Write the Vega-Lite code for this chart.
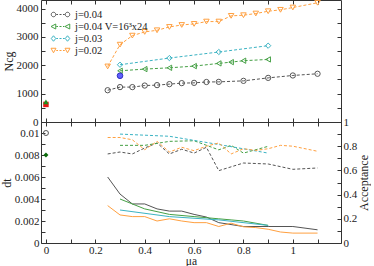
{
  "$schema": "https://vega.github.io/schema/vega-lite/v6.json",
  "padding": {"left": -1, "top": -3, "right": 0, "bottom": 0},
  "spacing": 0,
  "bounds": "flush",
  "datasets": {
    "top": [
      {"s": "j=0.04", "mu": 0.25, "n": 1120}, {"s": "j=0.04", "mu": 0.3, "n": 1230}, {"s": "j=0.04", "mu": 0.35, "n": 1230}, {"s": "j=0.04", "mu": 0.4, "n": 1285}, {"s": "j=0.04", "mu": 0.45, "n": 1300}, {"s": "j=0.04", "mu": 0.5, "n": 1335}, {"s": "j=0.04", "mu": 0.55, "n": 1370}, {"s": "j=0.04", "mu": 0.6, "n": 1380}, {"s": "j=0.04", "mu": 0.65, "n": 1410}, {"s": "j=0.04", "mu": 0.7, "n": 1415}, {"s": "j=0.04", "mu": 0.8, "n": 1450}, {"s": "j=0.04", "mu": 0.9, "n": 1555}, {"s": "j=0.04", "mu": 1.0, "n": 1640}, {"s": "j=0.04", "mu": 1.1, "n": 1700},
      {"s": "j=0.04 V=16³x24", "mu": 0.3, "n": 1805}, {"s": "j=0.04 V=16³x24", "mu": 0.4, "n": 1865}, {"s": "j=0.04 V=16³x24", "mu": 0.5, "n": 1910}, {"s": "j=0.04 V=16³x24", "mu": 0.6, "n": 1970}, {"s": "j=0.04 V=16³x24", "mu": 0.7, "n": 2065}, {"s": "j=0.04 V=16³x24", "mu": 0.75, "n": 2110}, {"s": "j=0.04 V=16³x24", "mu": 0.8, "n": 2160}, {"s": "j=0.04 V=16³x24", "mu": 0.9, "n": 2205},
      {"s": "j=0.03", "mu": 0.3, "n": 2018}, {"s": "j=0.03", "mu": 0.5, "n": 2254}, {"s": "j=0.03", "mu": 0.7, "n": 2467}, {"s": "j=0.03", "mu": 0.9, "n": 2690},
      {"s": "j=0.02", "mu": 0.25, "n": 1958}, {"s": "j=0.02", "mu": 0.3, "n": 2726}, {"s": "j=0.02", "mu": 0.35, "n": 3044}, {"s": "j=0.02", "mu": 0.4, "n": 3175}, {"s": "j=0.02", "mu": 0.45, "n": 3233}, {"s": "j=0.02", "mu": 0.5, "n": 3350}, {"s": "j=0.02", "mu": 0.55, "n": 3420}, {"s": "j=0.02", "mu": 0.6, "n": 3457}, {"s": "j=0.02", "mu": 0.65, "n": 3540}, {"s": "j=0.02", "mu": 0.7, "n": 3540}, {"s": "j=0.02", "mu": 0.75, "n": 3741}, {"s": "j=0.02", "mu": 0.8, "n": 3764}, {"s": "j=0.02", "mu": 0.85, "n": 3823}, {"s": "j=0.02", "mu": 0.9, "n": 3904}, {"s": "j=0.02", "mu": 0.95, "n": 3954}, {"s": "j=0.02", "mu": 1.0, "n": 4035}, {"s": "j=0.02", "mu": 1.1, "n": 4202}
    ],
    "xt": [
      {"k": "r", "mu": 0, "n": 620},
      {"k": "g", "mu": 0, "n": 710},
      {"k": "b", "mu": 0.3, "n": 1630}
    ],
    "dt": [
      {"s": "j=0.04", "mu": 0.25, "dt": 0.006}, {"s": "j=0.04", "mu": 0.3, "dt": 0.00445}, {"s": "j=0.04", "mu": 0.35, "dt": 0.00355}, {"s": "j=0.04", "mu": 0.4, "dt": 0.00355}, {"s": "j=0.04", "mu": 0.45, "dt": 0.0031}, {"s": "j=0.04", "mu": 0.5, "dt": 0.0029}, {"s": "j=0.04", "mu": 0.55, "dt": 0.0029}, {"s": "j=0.04", "mu": 0.6, "dt": 0.0026}, {"s": "j=0.04", "mu": 0.65, "dt": 0.00236}, {"s": "j=0.04", "mu": 0.7, "dt": 0.00185}, {"s": "j=0.04", "mu": 0.8, "dt": 0.0015}, {"s": "j=0.04", "mu": 0.9, "dt": 0.0015}, {"s": "j=0.04", "mu": 1.0, "dt": 0.0015}, {"s": "j=0.04", "mu": 1.1, "dt": 0.0012},
      {"s": "j=0.04 V=16³x24", "mu": 0.3, "dt": 0.004}, {"s": "j=0.04 V=16³x24", "mu": 0.4, "dt": 0.0031}, {"s": "j=0.04 V=16³x24", "mu": 0.5, "dt": 0.0026}, {"s": "j=0.04 V=16³x24", "mu": 0.6, "dt": 0.0024}, {"s": "j=0.04 V=16³x24", "mu": 0.7, "dt": 0.0022}, {"s": "j=0.04 V=16³x24", "mu": 0.75, "dt": 0.0021}, {"s": "j=0.04 V=16³x24", "mu": 0.8, "dt": 0.002}, {"s": "j=0.04 V=16³x24", "mu": 0.9, "dt": 0.0016},
      {"s": "j=0.03", "mu": 0.3, "dt": 0.003}, {"s": "j=0.03", "mu": 0.5, "dt": 0.0024}, {"s": "j=0.03", "mu": 0.7, "dt": 0.0021}, {"s": "j=0.03", "mu": 0.9, "dt": 0.0016},
      {"s": "j=0.02", "mu": 0.25, "dt": 0.0034}, {"s": "j=0.02", "mu": 0.3, "dt": 0.00255}, {"s": "j=0.02", "mu": 0.35, "dt": 0.0024}, {"s": "j=0.02", "mu": 0.4, "dt": 0.0024}, {"s": "j=0.02", "mu": 0.45, "dt": 0.002}, {"s": "j=0.02", "mu": 0.5, "dt": 0.0022}, {"s": "j=0.02", "mu": 0.55, "dt": 0.002}, {"s": "j=0.02", "mu": 0.6, "dt": 0.00185}, {"s": "j=0.02", "mu": 0.65, "dt": 0.00185}, {"s": "j=0.02", "mu": 0.7, "dt": 0.0015}, {"s": "j=0.02", "mu": 0.75, "dt": 0.0018}, {"s": "j=0.02", "mu": 0.8, "dt": 0.00147}, {"s": "j=0.02", "mu": 0.85, "dt": 0.0014}, {"s": "j=0.02", "mu": 0.9, "dt": 0.00125}, {"s": "j=0.02", "mu": 0.95, "dt": 0.001}, {"s": "j=0.02", "mu": 1.0, "dt": 0.0009}, {"s": "j=0.02", "mu": 1.1, "dt": 0.0009}
    ],
    "xb": [
      {"k": "c", "mu": 0, "dt": 0.01},
      {"k": "d", "mu": 0, "dt": 0.008}
    ],
    "acc": [
      {"s": "j=0.04", "mu": 0.25, "a": 0.736}, {"s": "j=0.04", "mu": 0.3, "a": 0.752}, {"s": "j=0.04", "mu": 0.35, "a": 0.736}, {"s": "j=0.04", "mu": 0.4, "a": 0.785}, {"s": "j=0.04", "mu": 0.45, "a": 0.827}, {"s": "j=0.04", "mu": 0.5, "a": 0.736}, {"s": "j=0.04", "mu": 0.55, "a": 0.775}, {"s": "j=0.04", "mu": 0.6, "a": 0.743}, {"s": "j=0.04", "mu": 0.65, "a": 0.791}, {"s": "j=0.04", "mu": 0.7, "a": 0.598}, {"s": "j=0.04", "mu": 0.8, "a": 0.661}, {"s": "j=0.04", "mu": 0.9, "a": 0.653}, {"s": "j=0.04", "mu": 1.0, "a": 0.609}, {"s": "j=0.04", "mu": 1.1, "a": 0.62},
      {"s": "j=0.04 V=16³x24", "mu": 0.3, "a": 0.807}, {"s": "j=0.04 V=16³x24", "mu": 0.4, "a": 0.807}, {"s": "j=0.04 V=16³x24", "mu": 0.5, "a": 0.84}, {"s": "j=0.04 V=16³x24", "mu": 0.6, "a": 0.845}, {"s": "j=0.04 V=16³x24", "mu": 0.7, "a": 0.77}, {"s": "j=0.04 V=16³x24", "mu": 0.75, "a": 0.807}, {"s": "j=0.04 V=16³x24", "mu": 0.8, "a": 0.743}, {"s": "j=0.04 V=16³x24", "mu": 0.9, "a": 0.799},
      {"s": "j=0.03", "mu": 0.3, "a": 0.9}, {"s": "j=0.03", "mu": 0.5, "a": 0.882}, {"s": "j=0.03", "mu": 0.7, "a": 0.814}, {"s": "j=0.03", "mu": 0.9, "a": 0.743},
      {"s": "j=0.02", "mu": 0.25, "a": 0.872}, {"s": "j=0.02", "mu": 0.3, "a": 0.872}, {"s": "j=0.02", "mu": 0.35, "a": 0.853}, {"s": "j=0.02", "mu": 0.4, "a": 0.771}, {"s": "j=0.02", "mu": 0.45, "a": 0.84}, {"s": "j=0.02", "mu": 0.5, "a": 0.752}, {"s": "j=0.02", "mu": 0.55, "a": 0.791}, {"s": "j=0.02", "mu": 0.6, "a": 0.763}, {"s": "j=0.02", "mu": 0.65, "a": 0.8}, {"s": "j=0.02", "mu": 0.7, "a": 0.827}, {"s": "j=0.02", "mu": 0.75, "a": 0.736}, {"s": "j=0.02", "mu": 0.8, "a": 0.779}, {"s": "j=0.02", "mu": 0.85, "a": 0.765}, {"s": "j=0.02", "mu": 0.9, "a": 0.779}, {"s": "j=0.02", "mu": 0.95, "a": 0.807}, {"s": "j=0.02", "mu": 1.0, "a": 0.8}, {"s": "j=0.02", "mu": 1.1, "a": 0.758}
    ]
  },
  "config": {
    "font": "Liberation Serif",
    "view": {"stroke": "#333333", "strokeWidth": 1},
    "axis": {"domain": false, "grid": false, "minExtent": 0, "offset": -4, "tickSize": 4, "tickColor": "#333333", "tickWidth": 1, "labelFont": "Liberation Serif", "titleFont": "Liberation Serif", "labelFontSize": 11, "titleFontSize": 12, "titleFontWeight": "normal", "labelColor": "#222222", "titleColor": "#222222"},
    "legend": {"labelFont": "Liberation Serif", "labelFontSize": 10.5, "labelColor": "#222222"}
  },
  "vconcat": [
    {
      "width": 300,
      "height": 122,
      "resolve": {"axis": {"x": "independent", "y": "independent"}},
      "layer": [
        {
          "data": {"name": "top"},
          "mark": {"type": "line", "strokeDash": [3, 2], "strokeWidth": 1},
          "encoding": {
            "x": {"field": "mu", "type": "quantitative", "scale": {"domain": [-0.02, 1.195], "nice": false, "zero": false},
              "axis": {"orient": "bottom", "values": [0, 0.1, 0.2, 0.3, 0.4, 0.5, 0.6, 0.7, 0.8, 0.9, 1.0, 1.1], "labels": false, "title": null}},
            "y": {"field": "n", "type": "quantitative", "scale": {"domain": [0, 4300], "nice": false},
              "axis": {"orient": "left", "values": [0, 500, 1000, 1500, 2000, 2500, 3000, 3500, 4000], "title": "Ncg", "titlePadding": 1,
                "labelExpr": "datum.value%1000===0 ? format(datum.value,'d') : ''", "labelPadding": 3}},
            "color": {"field": "s", "type": "nominal", "scale": {"domain": ["j=0.04", "j=0.04 V=16³x24", "j=0.03", "j=0.02"], "range": ["#555555", "#45a045", "#3bb3c3", "#ffa040"]}}
          }
        },
        {
          "data": {"name": "top"},
          "transform": [{"filter": "datum.s === 'j=0.04'"}],
          "mark": {"type": "point", "shape": "circle", "filled": false, "size": 28, "strokeWidth": 1, "opacity": 1},
          "encoding": {
            "x": {"field": "mu", "type": "quantitative", "axis": null},
            "y": {"field": "n", "type": "quantitative", "axis": null},
            "color": {"field": "s", "type": "nominal"}
          }
        },
        {
          "data": {"name": "top"},
          "transform": [{"filter": "datum.s === 'j=0.04 V=16³x24'"}],
          "mark": {"type": "point", "shape": "triangle-left", "filled": false, "size": 28, "strokeWidth": 1, "opacity": 1},
          "encoding": {
            "x": {"field": "mu", "type": "quantitative", "axis": null},
            "y": {"field": "n", "type": "quantitative", "axis": null},
            "color": {"field": "s", "type": "nominal"}
          }
        },
        {
          "data": {"name": "top"},
          "transform": [{"filter": "datum.s === 'j=0.03'"}],
          "mark": {"type": "point", "shape": "diamond", "filled": false, "size": 28, "strokeWidth": 1, "opacity": 1},
          "encoding": {
            "x": {"field": "mu", "type": "quantitative", "axis": null},
            "y": {"field": "n", "type": "quantitative", "axis": null},
            "color": {"field": "s", "type": "nominal"}
          }
        },
        {
          "data": {"name": "top"},
          "transform": [{"filter": "datum.s === 'j=0.02'"}],
          "mark": {"type": "point", "shape": "triangle-down", "filled": false, "size": 30, "strokeWidth": 1, "opacity": 1},
          "encoding": {
            "x": {"field": "mu", "type": "quantitative", "axis": null},
            "y": {"field": "n", "type": "quantitative", "axis": null},
            "color": {"field": "s", "type": "nominal"}
          }
        },
        {
          "data": {"name": "top"},
          "transform": [{"filter": "false"}],
          "mark": {"type": "point", "filled": false, "strokeWidth": 1},
          "encoding": {
            "x": {"field": "mu", "type": "quantitative", "axis": null},
            "y": {"field": "n", "type": "quantitative", "axis": null},
            "color": {"field": "s", "type": "nominal",
              "legend": {"title": null, "orient": "none", "legendX": 14, "legendY": 9, "padding": 0, "rowPadding": 1, "labelOffset": 9, "symbolSize": 100, "symbolStrokeWidth": 1, "symbolFillColor": "transparent"}},
            "shape": {"field": "s", "type": "nominal", "scale": {"domain": ["j=0.04", "j=0.04 V=16³x24", "j=0.03", "j=0.02"],
              "range": [
                "M-0.95,0A0.45,0.45,0,1,1,-1.85,0A0.45,0.45,0,1,1,-0.95,0M-0.85,0L-0.5,0M-0.2,0L0.2,0M0.5,0L0.85,0M1.85,0A0.45,0.45,0,1,1,0.95,0A0.45,0.45,0,1,1,1.85,0",
                "M-1.9,0L-0.95,-0.5L-0.95,0.5ZM-0.85,0L-0.5,0M-0.2,0L0.2,0M0.5,0L0.8,0M0.9,0L1.85,-0.5L1.85,0.5Z",
                "M-1.4,-0.55L-0.95,0L-1.4,0.55L-1.85,0ZM-0.85,0L-0.5,0M-0.2,0L0.2,0M0.5,0L0.85,0M1.4,-0.55L1.85,0L1.4,0.55L0.95,0Z",
                "M-1.9,-0.45L-0.9,-0.45L-1.4,0.45ZM-0.85,0L-0.5,0M-0.2,0L0.2,0M0.5,0L0.85,0M0.9,-0.45L1.9,-0.45L1.4,0.45Z"
              ]}}
          }
        },
        {
          "data": {"name": "xt"},
          "transform": [{"filter": "datum.k === 'r'"}],
          "mark": {"type": "point", "shape": "square", "filled": true, "size": 30, "color": "#e81818", "opacity": 1},
          "encoding": {
            "x": {"field": "mu", "type": "quantitative",
              "axis": {"orient": "top", "values": [0, 0.1, 0.2, 0.3, 0.4, 0.5, 0.6, 0.7, 0.8, 0.9, 1.0, 1.1], "labels": false, "title": null}},
            "y": {"field": "n", "type": "quantitative",
              "axis": {"orient": "right", "values": [0, 500, 1000, 1500, 2000, 2500, 3000, 3500, 4000], "labels": false, "title": null}}
          }
        },
        {
          "data": {"name": "xt"},
          "transform": [{"filter": "datum.k === 'g'"}],
          "mark": {"type": "point", "shape": "triangle-up", "filled": true, "size": 30, "color": "#1f8f1f", "opacity": 1},
          "encoding": {
            "x": {"field": "mu", "type": "quantitative", "axis": null},
            "y": {"field": "n", "type": "quantitative", "axis": null}
          }
        },
        {
          "data": {"name": "xt"},
          "transform": [{"filter": "datum.k === 'b'"}],
          "mark": {"type": "point", "shape": "circle", "filled": true, "size": 32, "color": "#6060ff", "stroke": "#3030c0", "strokeWidth": 1, "opacity": 1},
          "encoding": {
            "x": {"field": "mu", "type": "quantitative", "axis": null},
            "y": {"field": "n", "type": "quantitative", "axis": null}
          }
        }
      ]
    },
    {
      "width": 300,
      "height": 121,
      "resolve": {"scale": {"y": "independent"}, "axis": {"x": "independent", "y": "independent"}},
      "layer": [
        {
          "data": {"name": "dt"},
          "mark": {"type": "line", "strokeWidth": 1},
          "encoding": {
            "x": {"field": "mu", "type": "quantitative", "scale": {"domain": [-0.02, 1.195], "nice": false, "zero": false},
              "axis": {"orient": "bottom", "values": [0, 0.1, 0.2, 0.3, 0.4, 0.5, 0.6, 0.7, 0.8, 0.9, 1.0, 1.1], "title": "μa", "titlePadding": 0, "titleFontSize": 11.5,
                "labelExpr": "round(datum.value*10)%2===0 ? format(datum.value,'~g') : ''", "labelPadding": 1}},
            "y": {"field": "dt", "type": "quantitative", "scale": {"domain": [0, 0.011], "nice": false},
              "axis": {"orient": "left", "values": [0, 0.001, 0.002, 0.003, 0.004, 0.005, 0.006, 0.007, 0.008, 0.009, 0.01], "title": "dt", "titlePadding": 1,
                "labelExpr": "round(datum.value*1000)%2===0 ? format(datum.value,'~g') : ''", "labelPadding": 2}},
            "color": {"field": "s", "type": "nominal", "scale": {"domain": ["j=0.04", "j=0.04 V=16³x24", "j=0.03", "j=0.02"], "range": ["#555555", "#45a045", "#3bb3c3", "#ffa040"]}, "legend": null}
          }
        },
        {
          "data": {"name": "xb"},
          "transform": [{"filter": "datum.k === 'c'"}],
          "mark": {"type": "point", "shape": "circle", "filled": false, "size": 25, "color": "#555555", "strokeWidth": 1, "opacity": 1},
          "encoding": {
            "x": {"field": "mu", "type": "quantitative",
              "axis": {"orient": "top", "values": [0, 0.1, 0.2, 0.3, 0.4, 0.5, 0.6, 0.7, 0.8, 0.9, 1.0, 1.1], "labels": false, "title": null}},
            "y": {"field": "dt", "type": "quantitative", "scale": {"domain": [0, 0.011], "nice": false}, "axis": null}
          }
        },
        {
          "data": {"name": "xb"},
          "transform": [{"filter": "datum.k === 'd'"}],
          "mark": {"type": "point", "shape": "diamond", "filled": true, "size": 25, "color": "#0a6a0a", "opacity": 1},
          "encoding": {
            "x": {"field": "mu", "type": "quantitative", "axis": null},
            "y": {"field": "dt", "type": "quantitative", "scale": {"domain": [0, 0.011], "nice": false}, "axis": null}
          }
        },
        {
          "data": {"name": "acc"},
          "mark": {"type": "line", "strokeDash": [3, 2], "strokeWidth": 1},
          "encoding": {
            "x": {"field": "mu", "type": "quantitative", "axis": null},
            "y": {"field": "a", "type": "quantitative", "scale": {"domain": [0, 1], "nice": false},
              "axis": {"orient": "right", "values": [0, 0.1, 0.2, 0.3, 0.4, 0.5, 0.6, 0.7, 0.8, 0.9, 1.0], "title": "Acceptance", "titleAngle": 270, "titleBaseline": "top", "titlePadding": 2,
                "labelExpr": "round(datum.value*10)%2===0 ? format(datum.value,'~g') : ''", "labelPadding": 2}},
            "color": {"field": "s", "type": "nominal", "legend": null}
          }
        }
      ]
    }
  ]
}
